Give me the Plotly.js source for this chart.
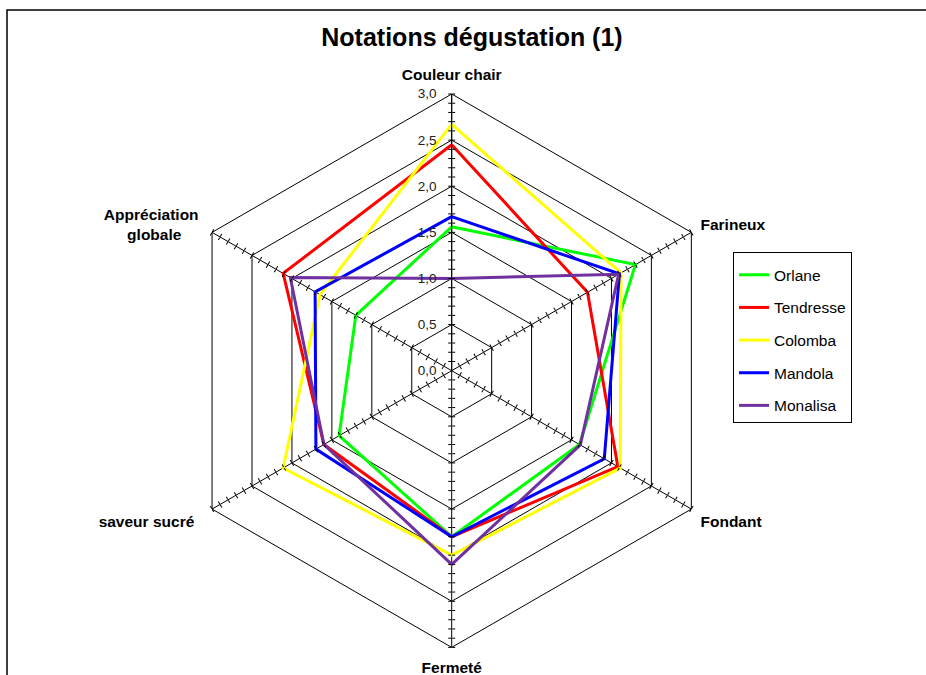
<!DOCTYPE html>
<html>
<head>
<meta charset="utf-8">
<script src="https://cdn.plot.ly/plotly-3.0.1.min.js"></script>
<style>html,body{margin:0;padding:0;background:#fff;}#chart{width:926px;height:675px;}</style>
</head>
<body>
<div id="chart"></div>
<script>
// ---- data ----
var categories = ['Couleur chair', 'Farineux', 'Fondant', 'Fermeté', 'saveur sucré', 'Appréciation globale'];
var categoryLabels = ['Couleur chair', 'Farineux', 'Fondant', 'Fermeté', 'saveur sucré\u00A0\u00A0',
  '<br>Appréciation\u00A0<br>globale\u00A0\u00A0\u00A0\u00A0\u00A0'];
var seriesNames = ['Orlane', 'Tendresse', 'Colomba', 'Mandola', 'Monalisa'];
var orlane    = [1.56, 2.30, 1.60, 1.80, 1.41, 1.20];
var tendresse = [2.45, 1.70, 2.08, 1.80, 1.60, 2.11];
var colomba   = [2.67, 2.12, 2.11, 2.00, 2.11, 1.65];
var mandola   = [1.67, 2.10, 1.91, 1.80, 1.70, 1.71];
var monalisa  = [1.00, 2.09, 1.61, 2.10, 1.60, 2.02];
var radialTickLabels = ['0,0', '0,5', '1,0', '1,5', '2,0', '2,5', '3,0'];
var radialTickValues = [0, 0.5, 1, 1.5, 2, 2.5, 3];
var minorTickValues = [];
for (var k = 1; k <= 30; k++) minorTickValues.push(k / 10);

var seriesValues = [orlane, tendresse, colomba, mandola, monalisa];
var seriesColors = ['#00FF00', '#FF0000', '#FFFF00', '#0000FF', '#7030A0'];

var domainX = [175 / 926, 728.4 / 926];
var domainY = [27.6 / 675, 581 / 675];
var FONT = 'Arial, Liberation Sans, sans-serif';

var traces = [];
seriesValues.forEach(function (vals, i) {
  traces.push({
    type: 'scatterpolar',
    mode: 'lines',
    name: seriesNames[i],
    r: vals.concat([vals[0]]),
    theta: categories.concat([categories[0]]),
    subplot: 'polar',
    line: {color: seriesColors[i], width: 3},
    legendgroup: 'g' + i,
    hoverinfo: 'skip'
  });
});

var layout = {
  width: 926, height: 675,
  margin: {l: 0, r: 0, t: 0, b: 0},
  paper_bgcolor: '#ffffff',
  separators: ', ',
  showlegend: true,
  title: {
    text: 'Notations dégustation (1)',
    x: 472 / 926, xanchor: 'center',
    y: 1 - 37 / 675, yanchor: 'middle',
    font: {family: FONT, size: 25, weight: 'bold', color: '#000'}
  },
  legend: {
    x: 733 / 926, xanchor: 'left',
    y: 1 - 252 / 675, yanchor: 'top',
    bordercolor: '#000', borderwidth: 1, bgcolor: '#fff',
    font: {family: FONT, size: 15.5, color: '#000'},
    traceorder: 'grouped', tracegroupgap: 9.5,
    title: {text: '\u00A0', font: {family: FONT, size: 4}}
  },
  polar: {
    domain: {x: domainX, y: domainY},
    bgcolor: 'rgba(0,0,0,0)',
    gridshape: 'linear',
    angularaxis: {
      direction: 'clockwise', rotation: 90,
      categoryorder: 'array', categoryarray: categories,
      tickmode: 'array', tickvals: categories, ticktext: categoryLabels,
      showline: true, linecolor: '#000', linewidth: 1,
      showgrid: true, gridcolor: '#000', gridwidth: 1,
      ticks: 'outside', ticklen: 7, tickcolor: 'rgba(0,0,0,0)',
      tickfont: {family: FONT, size: 15.5, weight: 'bold', color: '#000'}
    },
    radialaxis: {
      range: [0, 3], angle: 90, side: 'counterclockwise',
      tickvals: radialTickValues, ticktext: radialTickLabels,
      showgrid: true, gridcolor: '#000', gridwidth: 1,
      showline: true, linecolor: '#000', linewidth: 1,
      ticks: 'outside', ticklen: 10, tickcolor: 'rgba(0,0,0,0)',
      tickangle: 90,
      tickfont: {family: FONT, size: 13.5, color: '#222'}
    }
  },
  shapes: [{
    type: 'rect', xref: 'paper', yref: 'paper',
    x0: 7 / 926, x1: 1.02, y0: -0.02, y1: 1 - 10 / 675,
    line: {color: '#000', width: 1.5}, fillcolor: 'rgba(0,0,0,0)', layer: 'below'
  }]
};

// tick-mark overlays on each spoke (both sides -> crossing ticks)
var spokeAngles = [90, 30, -30, 270, 210, 150];
var n = 2;
spokeAngles.forEach(function (ang) {
  ['clockwise', 'counterclockwise'].forEach(function (side) {
    var id = 'polar' + n;
    layout[id] = {
      domain: {x: domainX, y: domainY},
      bgcolor: 'rgba(0,0,0,0)',
      gridshape: 'linear',
      angularaxis: {visible: false, type: 'linear', thetaunit: 'degrees', rotation: 0, direction: 'counterclockwise'},
      radialaxis: {
        range: [0, 3], angle: ang, side: side,
        tickvals: minorTickValues, showticklabels: false,
        ticks: 'outside', ticklen: 3, tickwidth: 1, tickcolor: '#000',
        showgrid: false, showline: false
      }
    };
    traces.push({type: 'scatterpolar', subplot: id, r: [], theta: [], mode: 'lines', showlegend: false, hoverinfo: 'skip'});
    n++;
  });
});

Plotly.newPlot('chart', traces, layout, {displayModeBar: false, staticPlot: true});
</script>
</body>
</html>
